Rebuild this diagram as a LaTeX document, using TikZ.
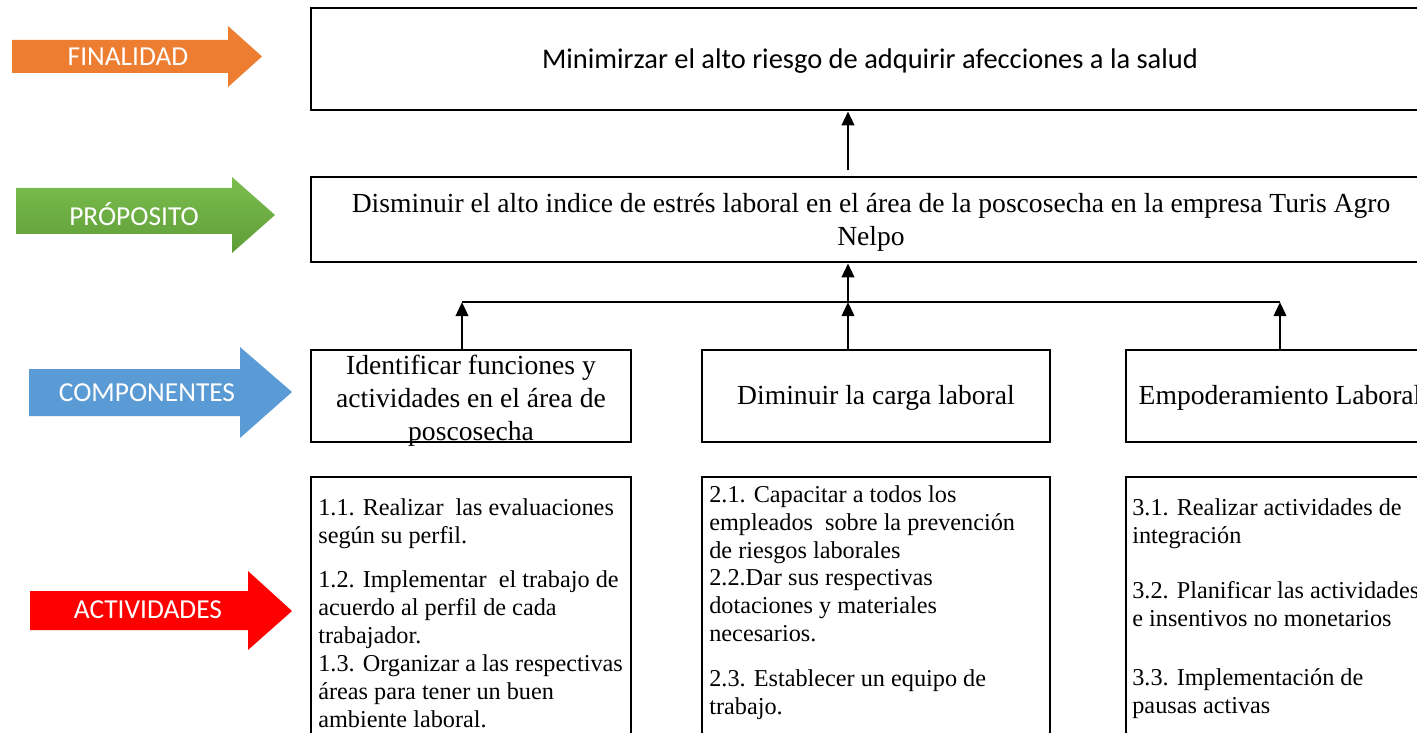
\documentclass[tikz,border=0pt]{standalone}
\usepackage{fontspec}
\setmainfont{Liberation Serif}
\newfontfamily\tagfont{Carlito}
\usetikzlibrary{arrows.meta,positioning}
\definecolor{finorange}{HTML}{ED7D31}
\definecolor{propgreenT}{HTML}{7CBF4E}
\definecolor{propgreenB}{HTML}{5E9C38}
\definecolor{compblue}{HTML}{5B9BD5}
\definecolor{actred}{HTML}{FF0000}

\begin{document}
\begin{tikzpicture}[x=0.02cm, y=-0.02cm]
    % ================= styles =================
    \tikzset{
        % coloured level arrows on the left
        tag_text/.style={text=white, inner sep=0pt, font=\tagfont\fontsize{15.6}{17}\selectfont},
        % boxes of the matrix
        mbox/.style={draw=black, line width=1.5pt, fill=white, inner sep=0pt},
        % texts
        top_text/.style={inner sep=0pt, font=\tagfont\fontsize{16.2}{18}\selectfont},
        mid_text/.style={inner sep=0pt, align=center, font=\fontsize{15.7}{18.8}\selectfont},
        act_text/.style={inner sep=0pt, align=left, anchor=north west, font=\fontsize{13.8}{15.9}\selectfont},
        % connectors
        up_arrow/.style={line width=1.6pt, -{Triangle[width=7pt,length=8pt]}},
        bus_line/.style={line width=1.6pt}
    }

    \useasboundingbox (0,0) rectangle (1417,733);
    \clip (0,0) rectangle (1417,733);

    % ================= left level arrows =================
    \fill[finorange] (12,40) -- (228,40) -- (228,26) -- (262,56.5) -- (228,87) -- (228,73) -- (12,73) -- cycle;
    \node[tag_text] (finalidad) at (128,57) {FINALIDAD};

    \shade[top color=propgreenT, bottom color=propgreenB]
        (16,188) -- (232,188) -- (232,177) -- (275,215) -- (232,253) -- (232,234) -- (16,234) -- cycle;
    \node[tag_text] (proposito) at (134,214) {PRÓPOSITO};

    \fill[compblue] (29,369) -- (240,369) -- (240,347) -- (292,392) -- (240,438) -- (240,416) -- (29,416) -- cycle;
    \node[tag_text] (componentes) at (147,393) {COMPONENTES};

    \fill[actred] (30,591) -- (248,591) -- (248,571) -- (292,611) -- (248,650) -- (248,630) -- (30,630) -- cycle;
    \node[tag_text] (actividades) at (148,610) {ACTIVIDADES};

    % ================= boxes =================
    \node[mbox, minimum width=22.36cm, minimum height=2.04cm] (fin) at (870,59) {};
    \node[top_text] (fin_t) at (870,61) {Minimirzar el alto riesgo de adquirir afecciones a la salud};

    \node[mbox, minimum width=22.4cm, minimum height=1.7cm] (prop) at (871,219.5) {};
    \node[mid_text] (prop_t) at (871,222) {Disminuir el alto indice de estrés laboral en el área de la poscosecha en la empresa Turis Agro\\Nelpo};

    % componentes
    \node[mbox, minimum width=6.4cm, minimum height=1.84cm] (c1) at (471,396) {};
    \node[mbox, minimum width=6.96cm, minimum height=1.84cm] (c2) at (876,396) {};
    \node[mbox, minimum width=6.16cm, minimum height=1.84cm] (c3) at (1280,396) {};
    \node[mid_text] (c1_t) at (471,401) {Identificar funciones y\\actividades en el área de\\poscosecha};
    \node[mid_text] (c2_t) at (876,398) {Diminuir la carga laboral};
    \node[mid_text] (c3_t) at (1280,398) {Empoderamiento Laboral};

    % actividades
    \node[mbox, minimum width=6.4cm, minimum height=6.46cm] (a1) at (471,638.5) {};
    \node[mbox, minimum width=6.96cm, minimum height=6.46cm] (a2) at (876,638.5) {};
    \node[mbox, minimum width=6.16cm, minimum height=6.46cm] (a3) at (1280,638.5) {};

    \node[act_text] (a1_t) at (318,498) {1.1. Realizar\ \ las evaluaciones\\según su perfil.\\[9.6pt]
        1.2. Implementar\ \ el trabajo de\\acuerdo al perfil de cada\\trabajador.\\
        1.3. Organizar a las respectivas\\áreas para tener un buen\\ambiente laboral.};
    \node[act_text] (a2_t) at (709,485) {2.1. Capacitar a todos los\\empleados\ \ sobre la prevención\\de riesgos laborales\\
        2.2.Dar sus respectivas\\dotaciones y materiales\\necesarios.\\[9.6pt]
        2.3. Establecer un equipo de\\trabajo.};
    \node[act_text] (a3_t) at (1132,498) {3.1. Realizar actividades de\\integración\\[15.9pt]
        3.2. Planificar las actividades\\e insentivos no monetarios\\[17.6pt]
        3.3. Implementación de\\pausas activas};

    % ================= connectors =================
    \coordinate (bus_l) at (462,302);
    \coordinate (bus_m) at (848,302);
    \coordinate (bus_r) at (1280,302);

    \draw[bus_line] (bus_l) -- (bus_r);
    \draw[up_arrow] (c1.north -| bus_l) -- (bus_l);
    \draw[up_arrow] (c2.north -| bus_m) -- (bus_m);
    \draw[up_arrow] (c3.north -| bus_r) -- (bus_r);
    \draw[up_arrow] (bus_m) -- (prop.south -| bus_m);
    \draw[up_arrow, shorten <=3pt] (prop.north -| bus_m) -- (fin.south -| bus_m);
\end{tikzpicture}
\end{document}
